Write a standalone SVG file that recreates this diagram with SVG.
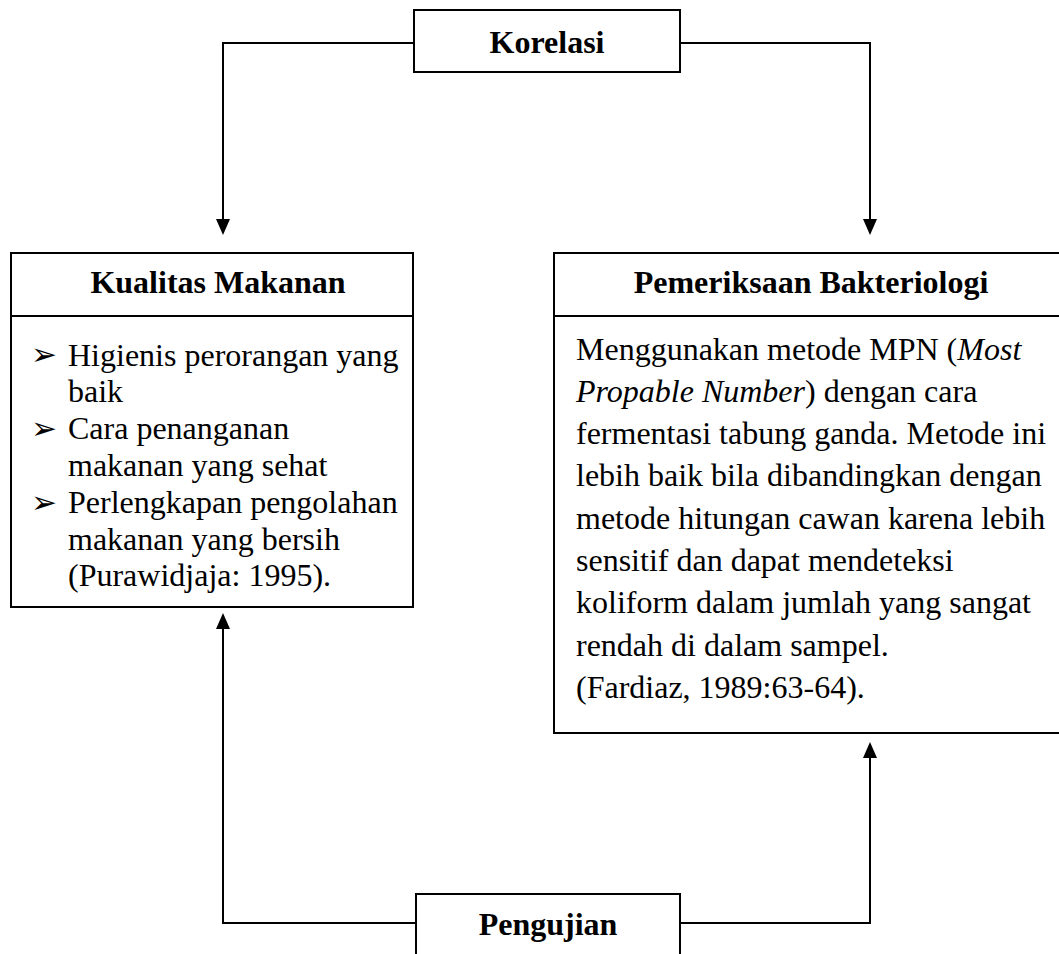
<svg xmlns="http://www.w3.org/2000/svg" width="1059" height="954" viewBox="0 0 1059 954">
  <style>
    .box { fill: #fff; stroke: #000; stroke-width: 2; }
    .div { stroke: #000; stroke-width: 2; }
    .conn { fill: none; stroke: #000; stroke-width: 2; }
    .t { font-family: "Liberation Serif", "Times New Roman", serif; font-size: 32px; fill: #000; }
    .b { font-weight: bold; }
    .bul { font-family: "DejaVu Sans", sans-serif; font-size: 31px; fill: #000; }
  </style>
  <defs>
    <marker id="arr" viewBox="0 0 16 14" refX="14" refY="7" markerWidth="16" markerHeight="14" markerUnits="userSpaceOnUse" orient="auto">
      <path d="M0,0 L16,7 L0,14 z" fill="#000"/>
    </marker>
  </defs>

  <g id="connectors">
    <path class="conn" d="M414,43 H223 V233" marker-end="url(#arr)"/>
    <path class="conn" d="M680,43 H870 V233" marker-end="url(#arr)"/>
    <path class="conn" d="M416,923 H223 V615" marker-end="url(#arr)"/>
    <path class="conn" d="M680,923 H870 V744" marker-end="url(#arr)"/>
  </g>

  <g id="korelasi">
    <rect class="box" x="414" y="10" width="266" height="62"/>
    <text class="t b" x="547" y="53" text-anchor="middle">Korelasi</text>
  </g>

  <g id="kualitas-makanan">
    <rect class="box" x="11" y="253" width="402" height="354"/>
    <line class="div" x1="11" y1="316" x2="413" y2="316"/>
    <text class="t b" x="218" y="293" text-anchor="middle">Kualitas Makanan</text>
    <text class="bul" x="31" y="365">➢</text>
    <text class="t" x="68" y="365.5">Higienis perorangan yang</text>
    <text class="t" x="68" y="402.3">baik</text>
    <text class="bul" x="31" y="439">➢</text>
    <text class="t" x="68" y="439.1">Cara penanganan</text>
    <text class="t" x="68" y="475.9">makanan yang sehat</text>
    <text class="bul" x="31" y="512.5">➢</text>
    <text class="t" x="68" y="512.7">Perlengkapan pengolahan</text>
    <text class="t" x="68" y="549.5">makanan yang bersih</text>
    <text class="t" x="68" y="586.3">(Purawidjaja: 1995).</text>
  </g>

  <g id="pemeriksaan-bakteriologi">
    <rect class="box" x="554" y="253" width="514" height="480"/>
    <line class="div" x1="554" y1="316" x2="1068" y2="316"/>
    <text class="t b" x="811" y="293" text-anchor="middle">Pemeriksaan Bakteriologi</text>
    <text class="t" x="576" y="359.5">Menggunakan metode MPN (<tspan font-style="italic">Most</tspan></text>
    <text class="t" x="576" y="401.8"><tspan font-style="italic">Propable Number</tspan>) dengan cara</text>
    <text class="t" x="576" y="444.1">fermentasi tabung ganda. Metode ini</text>
    <text class="t" x="576" y="486.4">lebih baik bila dibandingkan dengan</text>
    <text class="t" x="576" y="528.7">metode hitungan cawan karena lebih</text>
    <text class="t" x="576" y="571">sensitif dan dapat mendeteksi</text>
    <text class="t" x="576" y="613.3">koliform dalam jumlah yang sangat</text>
    <text class="t" x="576" y="655.6">rendah di dalam sampel.</text>
    <text class="t" x="576" y="697.9">(Fardiaz, 1989:63-64).</text>
  </g>

  <g id="pengujian">
    <rect class="box" x="416" y="894" width="264" height="80"/>
    <text class="t b" x="548" y="935" text-anchor="middle">Pengujian</text>
  </g>
</svg>
